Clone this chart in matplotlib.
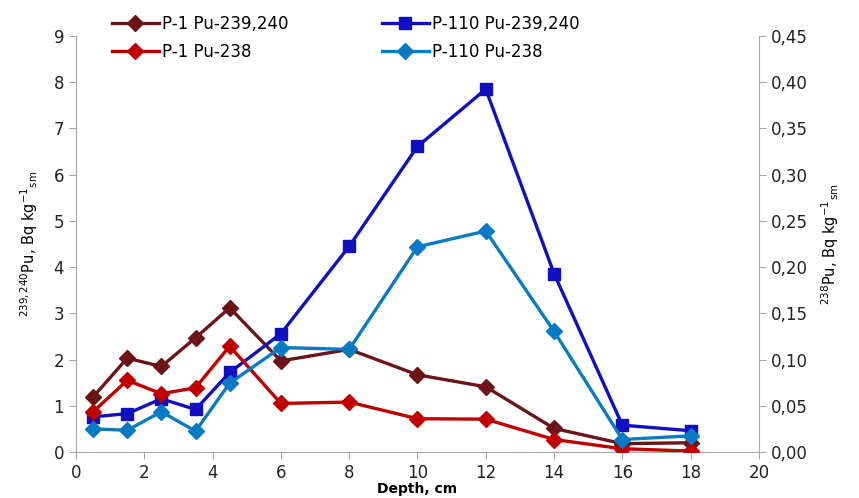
import matplotlib.pyplot as plt
from matplotlib.ticker import FuncFormatter

# depth, cm
depth = [0.5, 1.5, 2.5, 3.5, 4.5, 6, 8, 10, 12, 14, 16, 18]

# Pu-239,240 (left axis)
p1_pu239 = [1.19, 2.03, 1.85, 2.47, 3.12, 1.97, 2.22, 1.67, 1.41, 0.51, 0.18, 0.20]
p110_pu239 = [0.76, 0.83, 1.15, 0.92, 1.72, 2.56, 4.45, 6.61, 7.85, 3.86, 0.58, 0.46]

# Pu-238 (right axis)
p1_pu238 = [0.0435, 0.0775, 0.063, 0.0695, 0.1145, 0.0525, 0.054, 0.036, 0.0355, 0.0135, 0.0035, 0.001]
p110_pu238 = [0.025, 0.0235, 0.0435, 0.0225, 0.0745, 0.113, 0.111, 0.222, 0.239, 0.1305, 0.0135, 0.0175]

fig = plt.figure(figsize=(8.59, 4.98), dpi=100)
ax = fig.add_axes([0.0885, 0.0924, 0.795, 0.8353])
ax2 = ax.twinx()

grey = '#a6a6a6'
l1, = ax.plot(depth, p1_pu239, color='#6b1518', lw=2.4, marker='D', ms=8, label='P-1 Pu-239,240')
l3, = ax.plot(depth, p110_pu239, color='#1010c0', lw=2.4, marker='s', ms=8, label='P-110 Pu-239,240')
l2, = ax2.plot(depth, p1_pu238, color='#c00000', lw=2.4, marker='D', ms=8, label='P-1 Pu-238')
l4, = ax2.plot(depth, p110_pu238, color='#0a7ac4', lw=2.4, marker='D', ms=8, label='P-110 Pu-238')

ax.set_xlim(0, 20)
ax.set_ylim(0, 9)
ax2.set_ylim(0, 0.45)
ax.set_xticks(range(0, 21, 2))
ax.set_yticks(range(0, 10))
ax2.set_yticks([i * 0.05 for i in range(10)])
ax2.yaxis.set_major_formatter(FuncFormatter(lambda v, p: f'{v:.2f}'.replace('.', ',')))

for a in (ax, ax2):
    a.spines['top'].set_visible(False)
    for s in ('left', 'right', 'bottom'):
        a.spines[s].set_color(grey)
    a.tick_params(colors=grey, labelcolor='#222222', labelsize=12, length=5, direction='out')
ax.spines['right'].set_visible(False)
ax2.spines['left'].set_visible(False)
ax2.spines['bottom'].set_visible(False)

ax.set_xlabel('Depth, cm', fontsize=10, fontweight='bold', labelpad=0)
ax.set_ylabel(r'$^{239,240}$Pu, Bq kg$^{-1}$$_{\rm sm}$', fontsize=10.5, labelpad=10)
ax2.set_ylabel(r'$^{238}$Pu, Bq kg$^{-1}$$_{\rm sm}$', fontsize=10.5, labelpad=8)

fig.legend(handles=[l1, l2, l3, l4], loc='upper left', bbox_to_anchor=(0.113, 1.0),
           ncol=2, frameon=False, fontsize=12, handlelength=2.8, columnspacing=5.6,
           labelspacing=0.6, handletextpad=0.2)

fig.savefig('out.png', dpi=100)
